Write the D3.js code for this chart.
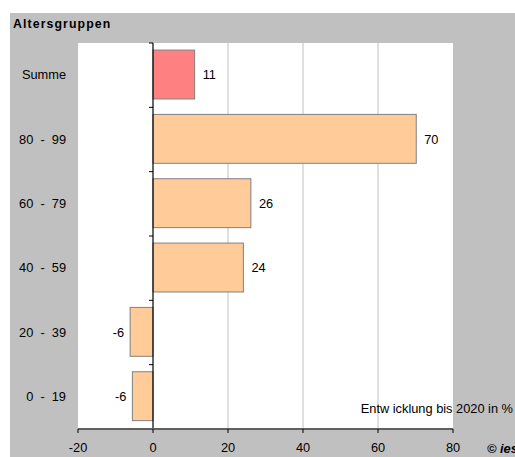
<!DOCTYPE html>
<html>
<head>
<meta charset="utf-8">
<script src="https://cdn.jsdelivr.net/npm/d3@7"></script>
<style>
  body { margin: 0; background: #fff; }
  svg { font-family: "Liberation Sans", Arial, sans-serif; }
</style>
</head>
<body>
<div id="chart"></div>
<script>
// top to bottom, as drawn
const categories = ["Summe", "80  -  99", "60  -  79", "40  -  59", "20  -  39", "0  -  19"];
const values = [11.1, 70.2, 26.1, 24.1, -6.1, -5.5];
const xTicks = [-20, 0, 20, 40, 60, 80];

const width = 515, height = 457;
const plot = { left: 78, right: 453, top: 43, bottom: 429 };
const fontSize = 12.8;

const svg = d3.select("#chart").append("svg")
  .attr("width", width)
  .attr("height", height);

// grey frame
svg.append("rect")
  .attr("x", 10).attr("y", 13)
  .attr("width", width - 10).attr("height", height - 13)
  .attr("fill", "#c0c0c0");

svg.append("rect")
  .attr("x", plot.left).attr("y", plot.top)
  .attr("width", plot.right - plot.left).attr("height", plot.bottom - plot.top)
  .attr("fill", "#fff");

svg.append("text")
  .attr("x", 13).attr("y", 28)
  .attr("font-size", 12.3).attr("font-weight", "bold")
  .attr("letter-spacing", 1.1)
  .text("Altersgruppen");

const x = d3.scaleLinear().domain([-20, 80]).range([plot.left, plot.right]);
const y = d3.scaleBand().domain(categories).range([plot.top, plot.bottom]).padding(0);
const fmt = d => d3.format(".0f")(d).replace("\u2212", "-");

// gridlines
svg.append("g")
  .selectAll("line")
  .data(xTicks.filter(t => t > 0 && t < 80))
  .join("line")
  .attr("x1", d => x(d)).attr("x2", d => x(d))
  .attr("y1", plot.top).attr("y2", plot.bottom)
  .attr("stroke", "#c0c0c0");

// bars
const inset = y.bandwidth() * 0.11;
const barH = y.bandwidth() * 0.76;
svg.append("g")
  .selectAll("rect")
  .data(values)
  .join("rect")
  .attr("x", d => x(Math.min(0, d)))
  .attr("y", (d, i) => y(categories[i]) + inset)
  .attr("width", d => Math.abs(x(d) - x(0)))
  .attr("height", barH)
  .attr("fill", (d, i) => i === 0 ? "#ff8080" : "#ffcc99")
  .attr("stroke", "#808080")
  .attr("stroke-width", 1);

// value labels
svg.append("g")
  .selectAll("text")
  .data(values)
  .join("text")
  .attr("x", d => d >= 0 ? x(d) + 8 : x(d) - 6)
  .attr("y", (d, i) => y(categories[i]) + y.bandwidth() / 2 + 4)
  .attr("text-anchor", d => d >= 0 ? "start" : "end")
  .attr("font-size", fontSize)
  .text(fmt);

// y axis at zero
svg.append("line")
  .attr("x1", x(0)).attr("x2", x(0))
  .attr("y1", plot.top).attr("y2", plot.bottom)
  .attr("stroke", "#000").attr("stroke-width", 1.2);

svg.append("g")
  .selectAll("line")
  .data(categories)
  .join("line")
  .attr("x1", x(0) - 4).attr("x2", x(0))
  .attr("y1", d => y(d)).attr("y2", d => y(d))
  .attr("stroke", "#000");

// category labels
svg.append("g")
  .selectAll("text")
  .data(categories)
  .join("text")
  .attr("x", 66)
  .attr("y", d => y(d) + y.bandwidth() / 2 + 4)
  .attr("text-anchor", "end")
  .attr("font-size", fontSize)
  .style("white-space", "pre")
  .text(d => d);

// x axis
svg.append("line")
  .attr("x1", plot.left).attr("x2", plot.right)
  .attr("y1", plot.bottom).attr("y2", plot.bottom)
  .attr("stroke", "#606060").attr("stroke-width", 2);

svg.append("g")
  .selectAll("line")
  .data(xTicks)
  .join("line")
  .attr("x1", d => x(d)).attr("x2", d => x(d))
  .attr("y1", plot.bottom).attr("y2", plot.bottom + 4)
  .attr("stroke", "#000");

svg.append("g")
  .selectAll("text")
  .data(xTicks)
  .join("text")
  .attr("x", d => x(d))
  .attr("y", plot.bottom + 23)
  .attr("text-anchor", "middle")
  .attr("font-size", fontSize)
  .text(fmt);

svg.append("text")
  .attr("x", 513).attr("y", 413)
  .attr("text-anchor", "end")
  .attr("font-size", fontSize)
  .style("white-space", "pre")
  .text("Entw icklung bis 2020 in %");

svg.append("text")
  .attr("x", 487).attr("y", 453)
  .attr("font-size", fontSize)
  .attr("font-weight", "bold")
  .attr("font-style", "italic")
  .text("© ies");
</script>
</body>
</html>
